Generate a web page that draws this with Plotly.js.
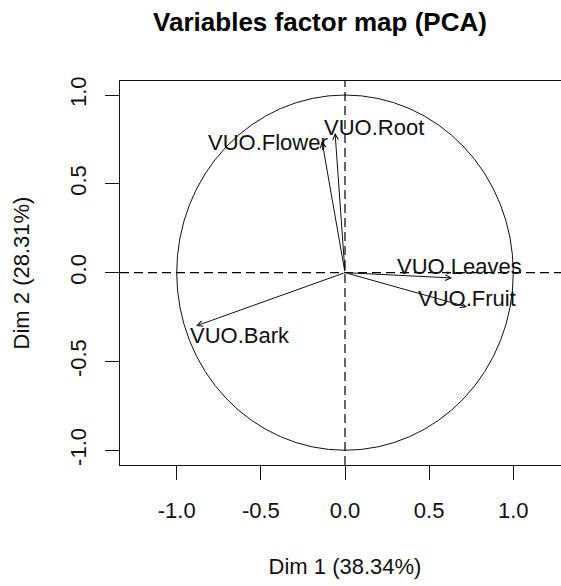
<!DOCTYPE html>
<html>
<head>
<meta charset="utf-8">
<script src="https://cdn.plot.ly/plotly-3.0.1.min.js"></script>
<style>
  html, body { margin: 0; padding: 0; background: #fff; overflow: hidden; }
  #chart { width: 580px; height: 586px; }
</style>
</head>
<body>
<div id="chart"></div>
<script>
// Correlations of each variable with the first two principal dimensions
const variables = ['VUO.Leaves', 'VUO.Fruit', 'VUO.Bark', 'VUO.Flower', 'VUO.Root'];
const dim1 = [0.636, 0.725, -0.885, -0.137, -0.059];
const dim2 = [-0.030, -0.193, -0.300, 0.742, 0.787];

const xTicks = [-1.0, -0.5, 0.0, 0.5, 1.0];
const yTicks = [-1.0, -0.5, 0.0, 0.5, 1.0];
const tickText = ['-1.0', '-0.5', '0.0', '0.5', '1.0'];

const dim1Pct = '38.34%';
const dim2Pct = '28.31%';

// Pixel offsets of each label from its arrow tip (label placement)
const labelShift = {
  'VUO.Leaves': [7, 11],
  'VUO.Fruit': [0, 8],
  'VUO.Bark': [44, -10],
  'VUO.Flower': [-54, -2],
  'VUO.Root': [39, 5]
};

const FONT = '"Liberation Sans", Arial, Helvetica, sans-serif';
const INK = '#111';

const annotations = [];
variables.forEach((name, i) => {
  // arrow from the origin to the variable's coordinates
  annotations.push({
    x: dim1[i], y: dim2[i], xref: 'x', yref: 'y',
    ax: 0, ay: 0, axref: 'x', ayref: 'y',
    text: '', showarrow: true,
    arrowhead: 5, arrowsize: 1.1, arrowwidth: 1, arrowcolor: INK,
    standoff: 0, startstandoff: 0
  });
  // variable label
  annotations.push({
    x: dim1[i], y: dim2[i], xref: 'x', yref: 'y',
    text: name, showarrow: false,
    xanchor: 'center', yanchor: 'middle',
    xshift: labelShift[name][0], yshift: labelShift[name][1],
    font: { family: FONT, size: 22, color: INK }
  });
});

const shapes = [
  // unit correlation circle
  { type: 'circle', xref: 'x', yref: 'y', x0: -1, x1: 1, y0: -1, y1: 1,
    line: { color: INK, width: 1 } },
  // dashed reference axes through the origin
  { type: 'line', xref: 'x', yref: 'paper', x0: 0, x1: 0, y0: 0, y1: 1,
    line: { color: '#000', width: 1.2, dash: '9px,5px' } },
  { type: 'line', xref: 'paper', yref: 'y', x0: 0, x1: 1, y0: 0, y1: 0,
    line: { color: '#000', width: 1.2, dash: '9px,5px' } }
];

const layout = {
  width: 580, height: 586,
  margin: { l: 120, r: 10, t: 81, b: 121 },
  paper_bgcolor: '#fff', plot_bgcolor: '#fff',
  showlegend: false,
  hovermode: false,
  title: {
    text: '<b>Variables factor map (PCA)</b>',
    xref: 'container', yref: 'container',
    x: 320 / 580, xanchor: 'center',
    y: 1 - 22 / 586, yanchor: 'middle',
    font: { family: FONT, size: 26, color: '#000' }
  },
  xaxis: {
    range: [-1.337, 1.337],
    tickvals: xTicks, ticktext: tickText,
    ticks: 'outside', ticklen: 14, tickwidth: 1, tickcolor: INK,
    ticklabelstandoff: 12,
    showline: true, mirror: true, linecolor: INK, linewidth: 1,
    showgrid: false, zeroline: false,
    tickfont: { family: FONT, size: 22, color: INK },
    title: { text: 'Dim 1 (' + dim1Pct + ')', standoff: 36,
             font: { family: FONT, size: 22, color: INK } },
    automargin: false, fixedrange: true
  },
  yaxis: {
    range: [-1.083, 1.079],
    tickvals: yTicks, ticktext: tickText,
    tickangle: -90,
    ticks: 'outside', ticklen: 14, tickwidth: 1, tickcolor: INK,
    ticklabelstandoff: 10,
    showline: true, mirror: true, linecolor: INK, linewidth: 1,
    showgrid: false, zeroline: false,
    tickfont: { family: FONT, size: 22, color: INK },
    title: { text: 'Dim 2 (' + dim2Pct + ')', standoff: 30,
             font: { family: FONT, size: 22, color: INK } },
    automargin: false, fixedrange: true
  },
  shapes: shapes,
  annotations: annotations
};

Plotly.newPlot('chart', [], layout, { displayModeBar: false, staticPlot: true });
</script>
</body>
</html>
